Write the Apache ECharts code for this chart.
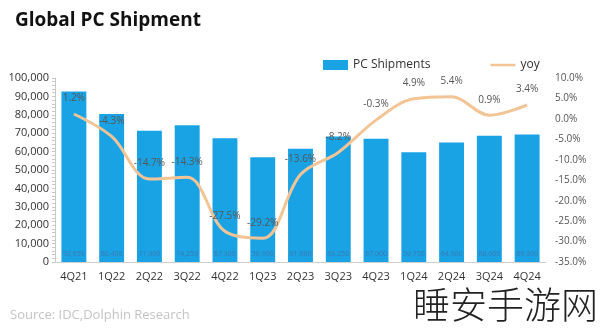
<!DOCTYPE html>
<html>
<head>
<meta charset="utf-8">
<script src="https://cdn.jsdelivr.net/npm/echarts@6/dist/echarts.min.js"></script>
<style>html,body{margin:0;padding:0;background:#fff}#c{width:600px;height:333px}</style>
</head>
<body>
<div id="c"></div>
<script>
const categories = ['4Q21','1Q22','2Q22','3Q22','4Q22','1Q23','2Q23','3Q23','4Q23','1Q24','2Q24','3Q24','4Q24'];
const shipments = [92658, 80400, 71300, 74253, 67300, 56900, 61600, 68250, 67000, 59700, 64900, 68600, 69300];
const yoy = [1.2, -4.3, -14.7, -14.3, -27.5, -29.2, -13.6, -8.2, -0.3, 4.9, 5.4, 0.9, 3.4];

const chart = echarts.init(document.getElementById('c'), null, {renderer: 'canvas'});
const fmtNum = v => v.toLocaleString('en-US');
chart.setOption({
  animation: false,
  backgroundColor: '#fff',
  textStyle: {fontFamily: 'Open Sans, sans-serif'},
  title: {
    text: 'Global PC Shipment', left: 10, top: 6,
    textStyle: {fontSize: 19, fontWeight: 'bold', color: '#111', fontFamily: 'Open Sans'}
  },
  legend: {
    left: 318, top: 54, itemWidth: 25, itemHeight: 10, itemGap: 60,
    textStyle: {fontSize: 12, color: '#333'},
    data: [
      {name: 'PC Shipments', icon: 'rect'},
      {name: 'yoy', icon: 'path://M0,0 H30 V3 H0 Z', itemStyle: {color: '#F3C495', opacity: 1}}
    ]
  },
  grid: {left: 55, right: 54, top: 78, bottom: 71},
  xAxis: {
    type: 'category', data: categories,
    axisLine: {lineStyle: {color: '#d0d0d0'}},
    axisTick: {show: false},
    axisLabel: {color: '#333', fontSize: 11, margin: 9}
  },
  yAxis: [{
    type: 'value', min: 0, max: 100000, interval: 10000,
    axisLine: {show: true, lineStyle: {color: '#c8c8c8'}},
    axisTick: {show: true, length: 3, inside: false, lineStyle: {color: '#c8c8c8'}},
    minorTick: {show: true, splitNumber: 5, length: 3, lineStyle: {color: '#c8c8c8'}},
    splitLine: {show: false},
    axisLabel: {color: '#333', fontSize: 11, margin: 6, formatter: v => fmtNum(v)}
  }, {
    type: 'value', min: -35, max: 10, interval: 5,
    axisLine: {show: false}, axisTick: {show: false}, splitLine: {show: false},
    axisLabel: {color: '#555', fontSize: 10, margin: 9, formatter: v => v.toFixed(1) + '%'}
  }],
  series: [{
    name: 'PC Shipments', type: 'bar', data: shipments, barWidth: '66%',
    itemStyle: {color: '#1AA3E4'},
    label: {show: true, position: 'insideBottom', distance: 5, fontSize: 7, color: '#3a78b0',
      formatter: p => fmtNum(p.value)}
  }, {
    name: 'yoy', type: 'line', yAxisIndex: 1, data: yoy, smooth: 0.35,
    symbol: 'circle', symbolSize: 1, showSymbol: true,
    lineStyle: {color: '#F3C495', width: 3},
    itemStyle: {color: 'rgba(0,0,0,0)', borderWidth: 0},
    label: {show: true, position: 'top', distance: 10, fontSize: 10, color: '#555',
      formatter: p => p.value.toFixed(1) + '%'}
  }],
  graphic: [{
    type: 'text', left: 10, top: 309,
    style: {text: 'Source: IDC,Dolphin Research', fontSize: 13, fill: '#c4c4c4', fontFamily: 'Open Sans'}
  }, {
    type: 'text', left: 413, top: 286,
    style: {text: '睡安手游网', fontSize: 37, fill: '#222', fontFamily: 'Noto Sans CJK SC', fontWeight: 300}
  }]
});
</script>
</body>
</html>
